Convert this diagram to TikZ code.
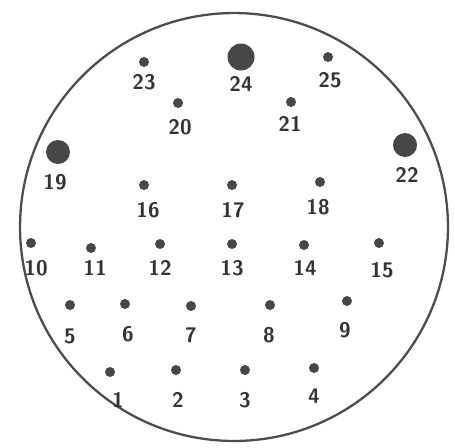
\documentclass[tikz,border=0pt]{standalone}
\usepackage{tikz}

\begin{document}
\begin{tikzpicture}[x=0.02cm,y=-0.02cm,
    dot/.style={circle,fill=black!72,inner sep=0pt,minimum size=2mm},
    bigdot/.style={dot,minimum size=4.8mm},
    num/.style={font=\sffamily\bfseries\large,text=black!80,inner sep=0pt}]
        \useasboundingbox (0,0) rectangle (455,447);
        \node[circle,draw=black!70,line width=1.3pt,minimum size=8.56cm,inner sep=0pt] (plate) at (234,227) {};
        % small holes: number/dot x/dot y/label x/label y
        \foreach \n/\dx/\dy/\lx/\ly in {1/110/372/118/400,2/176/370/178/400,3/245/370/245/400,4/314/368/314/396,
            5/70/305/70/336,6/125/304/128/334,7/191/306/191/335,8/270/305/269/335,9/347/301/345/330,
            10/31/243/36/268,11/91/248/95/268,12/160/244/160/268,13/232/244/232/268,14/304/245/305/268,15/379/243/382/270,
            16/144/185/148/210,17/232/185/233/210,18/320/182/318/207,
            20/178/103/180/127,21/291/102/290/124,23/144/62/144/82,25/328/57/330/80}
          {\node[dot] (d\n) at (\dx,\dy) {};
           \node[num] (l\n) at (\lx,\ly) {\n};}
        % large holes
        \node[bigdot] (d19) at (58,152) {};
        \node[num] (l19) at (55,182) {19};
        \node[bigdot] (d22) at (405,145) {};
        \node[num] (l22) at (407,175) {22};
        \node[bigdot,minimum size=5.4mm] (d24) at (241,57) {};
        \node[num] (l24) at (241,84) {24};
      \end{tikzpicture}
\end{document}
